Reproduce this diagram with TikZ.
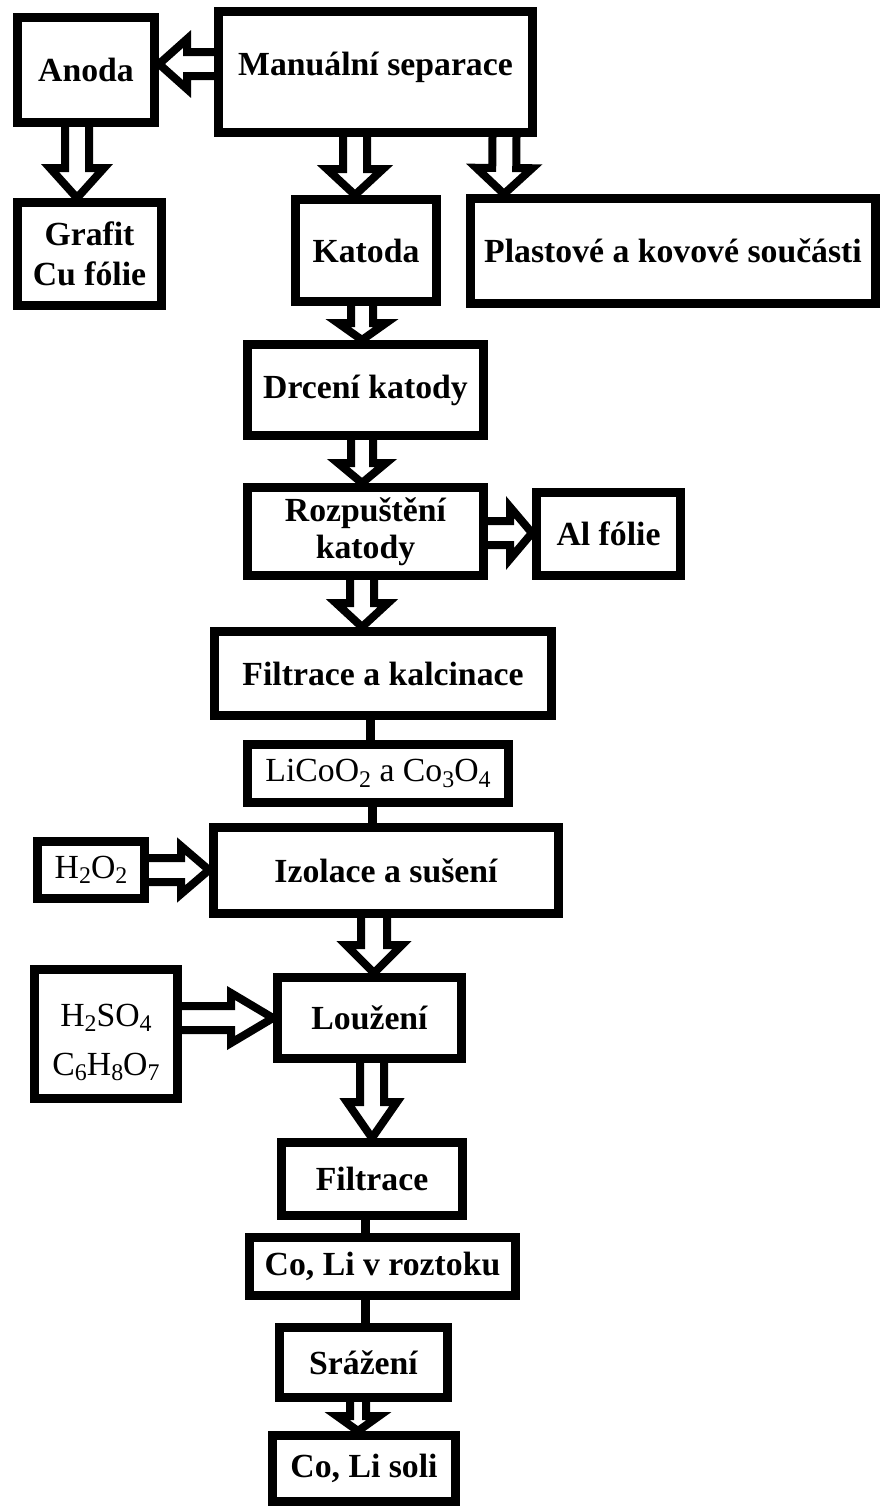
\documentclass[tikz,border=0pt]{standalone}
\usepackage{fontspec}
\setmainfont{Liberation Serif}
\usetikzlibrary{calc}
\pgfdeclarelayer{back}
\pgfdeclarelayer{links}
\pgfsetlayers{back,links,main}
\tikzset{
  flowbox/.style={draw, line width=2.25mm, fill=white, inner sep=0pt, align=center,
    font=\bfseries\fontsize{24}{27}\selectfont},
  chembox/.style={flowbox, font=\fontsize{24}{27}\selectfont},
  dims/.style 2 args={minimum width=#1*0.25mm-2.25mm, minimum height=#2*0.25mm-2.25mm},
  hollowline/.style={draw, fill=white, line width=2mm, line join=miter, miter limit=10},
  linkline/.style={draw, line width=2.25mm},
}
% chemical index digits
\newcommand\ch[1]{\raisebox{-0.35ex}{\fontsize{17}{17}\selectfont #1}}
% shift text vertically without changing the box size
\newcommand\vshift[2]{\raisebox{#1}[\height][\depth]{#2}}
% hollow block arrow: start, tip, half shaft width, half head width, head length (px units)
\newcommand\hollowarrow[5]{%
  \begin{pgfonlayer}{links}
    \path (#1) coordinate (ha-s) (#2) coordinate (ha-t);
    \coordinate (ha-a) at ($(ha-s)!-4*0.25mm!(ha-t)$);
    \coordinate (ha-b) at ($(ha-t)!#5*0.25mm!(ha-s)$);
    \path[hollowline]
      ($(ha-a)!#3*0.25mm!90:(ha-t)$) -- ($(ha-b)!#3*0.25mm!90:(ha-t)$)
      -- ($(ha-b)!#4*0.25mm!90:(ha-t)$) -- (ha-t)
      -- ($(ha-b)!#4*0.25mm!-90:(ha-t)$) -- ($(ha-b)!#3*0.25mm!-90:(ha-t)$)
      -- ($(ha-a)!#3*0.25mm!-90:(ha-t)$);
  \end{pgfonlayer}}
\begin{document}
\begin{tikzpicture}[x=0.25mm, y=-0.25mm]
\begin{pgfonlayer}{back}
  \fill[white] (0,0) rectangle (880,1508);
\end{pgfonlayer}
\useasboundingbox (0,0) rectangle (880,1508);

% boxes
\node[flowbox, dims={146}{114}] (anoda) at (86,70) {Anoda};
\node[flowbox, dims={323}{130}] (manual) at (375.5,72) {\vshift{1.25mm}{Manuální separace}};
\node[flowbox, dims={153}{112}, font=\bfseries\fontsize{24}{28.5}\selectfont] (grafit) at (89.5,254) {Grafit\\Cu fólie};
\node[flowbox, dims={150}{111}] (katoda) at (366,250.5) {Katoda};
\node[flowbox, dims={414}{114}] (plast) at (673,251) {Plastové a kovové součásti};
\node[flowbox, dims={245}{100}] (drceni) at (365.5,390) {Drcení katody};
\node[flowbox, dims={245}{97}, font=\bfseries\fontsize{24}{26.5}\selectfont] (rozp) at (365.5,531.5) {Rozpuštění\\katody};
\node[flowbox, dims={153}{92}] (al) at (608.5,534) {Al fólie};
\node[flowbox, dims={346}{93}] (filkal) at (383,673.5) {Filtrace a kalcinace};
\node[chembox, dims={270}{67}] (lico) at (378,773.5) {LiCoO\ch{2} a Co\ch{3}O\ch{4}};
\node[flowbox, dims={354}{95}] (izol) at (386,870.5) {Izolace a sušení};
\node[chembox, dims={116}{66}] (h2o2) at (91,870) {H\ch{2}O\ch{2}};
\node[flowbox, dims={193}{90}] (louz) at (369.5,1018) {Loužení};
\node[chembox, dims={152}{138}] (acids) at (106,1034)
  {\vshift{-2.25mm}{\begin{tabular}{@{}c@{}}H\ch{2}SO\ch{4}\\[8pt]C\ch{6}H\ch{8}O\ch{7}\end{tabular}}};
\node[flowbox, dims={190}{82}] (filtr) at (372,1179) {Filtrace};
\node[flowbox, dims={275}{67}] (roztok) at (382.5,1266.5) {Co, Li v roztoku};
\node[flowbox, dims={177}{79}] (srazeni) at (363.5,1362.5) {Srážení};
\node[flowbox, dims={192}{75}] (soli) at (364,1468.5) {Co, Li soli};

% hollow arrows
\hollowarrow{$(manual.west)+(0,-8)$}{$(anoda.east)+(0,-6)$}{12}{25}{28}
\hollowarrow{$(anoda.south)+(-9,0)$}{$(grafit.north)+(-12.5,0)$}{12}{27}{30}
\hollowarrow{$(manual.south)+(-20.5,0)$}{$(katoda.north)+(-11,0)$}{12}{28}{26}
\hollowarrow{$(manual.south)+(129,0)$}{$(plast.north)+(-169,0)$}{12}{28}{26}
\hollowarrow{$(katoda.south)+(-4,0)$}{$(drceni.north)+(-3.5,0)$}{11}{24}{17}
\hollowarrow{$(drceni.south)+(-3.5,0)$}{$(rozp.north)+(-3.5,0)$}{11}{24}{20}
\hollowarrow{$(rozp.east)+(0,1.5)$}{$(al.west)+(0,-1)$}{12}{26}{22}
\hollowarrow{$(rozp.south)+(-3.5,0)$}{$(filkal.north)+(-21,0)$}{12}{26}{24}
\hollowarrow{h2o2.east}{izol.west |- h2o2.east}{12}{24}{28}
\hollowarrow{$(izol.south)+(-12,0)$}{$(louz.north)+(4.5,0)$}{13}{28}{28}
\hollowarrow{$(acids.east)+(0,-16)$}{louz.west}{12}{25}{42}
\hollowarrow{$(louz.south)+(2.5,0)$}{filtr.north}{12}{25}{36}
\hollowarrow{$(srazeni.south)+(-5.5,0)$}{$(soli.north)+(-6,0)$}{8}{21}{15}

% plain links
\begin{pgfonlayer}{links}
  \draw[linkline] ($(filkal.south)+(-13,0)$) -- ($(lico.north)+(-8,0)$);
  \draw[linkline] ($(lico.south)+(-6,0)$) -- ($(izol.north)+(-14,0)$);
  \draw[linkline] ($(filtr.south)+(-7,0)$) -- ($(roztok.north)+(-17.5,0)$);
  \draw[linkline] ($(roztok.south)+(-17.5,0)$) -- ($(srazeni.north)+(1.5,0)$);
\end{pgfonlayer}
\end{tikzpicture}
\end{document}
